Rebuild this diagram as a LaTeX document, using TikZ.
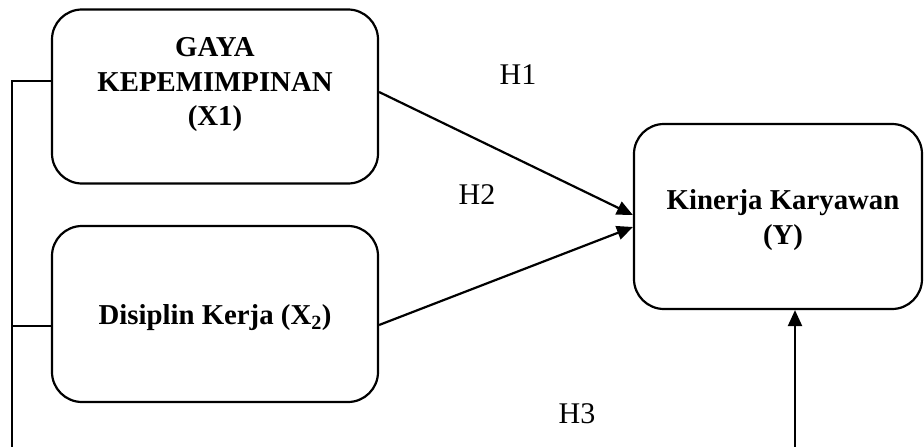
\documentclass[tikz,border=0pt]{standalone}
\usepackage{fontspec}
\setmainfont{Liberation Serif}
\usetikzlibrary{calc,arrows.meta}
\begin{document}
\begin{tikzpicture}[x=1pt,y=-1pt,
  varbox/.style={draw,line width=2.2pt,rounded corners=30pt,inner sep=0pt},
  boxtext/.style={font=\fontsize{28.8}{34.5}\selectfont\bfseries,align=center,inner sep=0pt},
  hyp/.style={font=\fontsize{30}{34}\selectfont,inner sep=0pt},
  arr/.style={line width=2.2pt,-{Triangle[length=16pt,width=14pt]}},
  thin/.style={line width=1.1pt}]
\useasboundingbox (0,0) rectangle (924,447);
\node[varbox,minimum width=326pt,minimum height=174pt] (x1) at (215,96.5) {};
\node[varbox,minimum width=326pt,minimum height=176pt] (x2) at (215,314) {};
\node[varbox,minimum width=288pt,minimum height=185pt] (y) at (778,216.5) {};
\node[boxtext] (tx1) at (215,85) {GAYA\\KEPEMIMPINAN\\(X1)};
\node[boxtext] (tx2) at (215,318) {Disiplin Kerja (X\textsubscript{2})};
\node[boxtext] (ty) at (783,220) {Kinerja Karyawan\\(Y)};
\node[hyp] (h1) at (518,75) {H1};
\node[hyp] (h2) at (477,195) {H2};
\node[hyp] (h3) at (577,414) {H3};
\coordinate (lt) at (12,81);
\coordinate (lm) at (12,326);
\coordinate (lb) at (12,447);
\coordinate (b) at (795,447);
\draw[thin] ($(x1.west)+(0,-15.5)$) -- (lt) -- (lb);
\draw[thin] ($(x2.west)+(0,12)$) -- (lm);
\draw[arr] ($(x1.east)+(0,-4.5)$) -- ($(y.west)+(0,-1.5)$);
\draw[arr] ($(x2.east)+(0,11)$) -- ($(y.west)+(0,10.5)$);
\draw[arr] (b) -- (b |- y.south);
\end{tikzpicture}
\end{document}
